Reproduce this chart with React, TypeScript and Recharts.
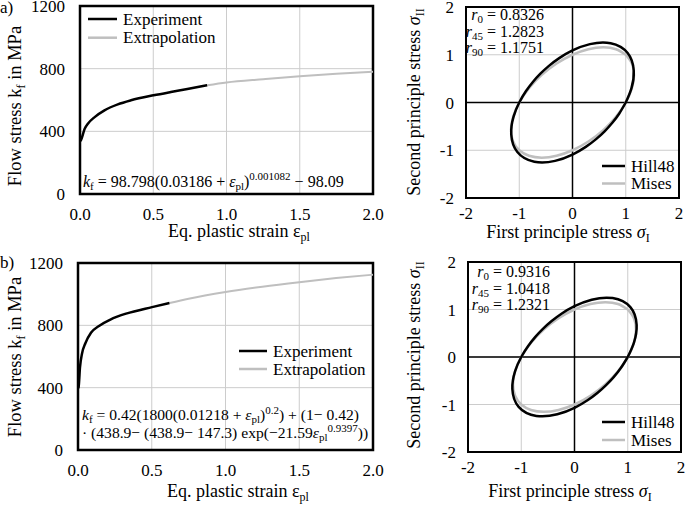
import React from "react";
import {
  LineChart,
  Line,
  XAxis,
  YAxis,
  CartesianGrid,
  ReferenceArea,
  ReferenceLine,
} from "recharts";

const FONT = "'Liberation Serif', 'Times New Roman', Times, serif";
const GRID = "#cccccc";
const GREY = "#bfbfbf";

// axis ticks
const strainTicks = [0, 0.5, 1, 1.5, 2];
const stressTicks = [0, 400, 800, 1200];
const unitTicks = [-2, -1, 0, 1, 2];

// a) flow curve
const expStrainA = [0, 0.005, 0.032, 0.054, 0.1, 0.167, 0.258, 0.348, 0.502, 0.62, 0.733, 0.868];
const expStressA = [338, 342, 417, 449, 491, 534, 572, 598, 630, 651, 670, 694];
const extStrainA = [0.868, 1.0, 1.25, 1.5, 1.75, 2.0];
const extStressA = [694, 712, 733, 752, 767, 780];

// b) flow curve
const expStrainB = [0, 0.004, 0.0136, 0.027, 0.05, 0.088, 0.145, 0.213, 0.27, 0.326, 0.502, 0.62];
const expStressB = [398, 404, 532, 618, 685, 752, 798, 834, 857, 875, 917, 943];
const extStrainB = [0.62, 0.75, 1.0, 1.25, 1.5, 1.75, 2.0];
const extStressB = [943, 971, 1014, 1048, 1077, 1103, 1125];

// yield loci (normalised principal stresses), traced around the contour
const misesS1 = [1, 1.1153, 1.1547, 1.1153, 1, 0.8165, 0.5774, 0.2989, 0, -0.2989, -0.5774, -0.8165, -1, -1.1153, -1.1547, -1.1153, -1, -0.8165, -0.5774, -0.2989, 0, 0.2989, 0.5774, 0.8165, 1];
const misesS2 = [1, 0.8165, 0.5774, 0.2989, 0, -0.2989, -0.5774, -0.8165, -1, -1.1153, -1.1547, -1.1153, -1, -0.8165, -0.5774, -0.2989, 0, 0.2989, 0.5774, 0.8165, 1, 1.1153, 1.1547, 1.1153, 1];

const hillS1A = [1, 1.1065, 1.1503, 1.0358, 0.7163, 0.3275, 0, -0.2492, -0.4429, -0.603, -0.7443, -0.8758, -1, -1.1065, -1.1503, -1.0358, -0.7163, -0.3275, 0, 0.2492, 0.4429, 0.603, 0.7443, 0.8758, 1];
const hillS2A = [0, 0.2965, 0.6641, 1.0358, 1.2406, 1.2223, 1.0904, 0.9299, 0.7672, 0.603, 0.4297, 0.2347, 0, -0.2965, -0.6641, -1.0358, -1.2406, -1.2223, -1.0904, -0.9299, -0.7672, -0.603, -0.4297, -0.2347, 0];

const hillS1B = [1, 1.1151, 1.167, 1.0488, 0.7161, 0.3233, 0, -0.2442, -0.4347, -0.5936, -0.7356, -0.87, -1, -1.1151, -1.167, -1.0488, -0.7161, -0.3233, 0, 0.2442, 0.4347, 0.5936, 0.7356, 0.87, 1];
const hillS2B = [0, 0.2988, 0.6738, 1.0488, 1.2402, 1.2065, 1.0698, 0.9114, 0.7529, 0.5936, 0.4247, 0.2331, 0, -0.2988, -0.6738, -1.0488, -1.2402, -1.2065, -1.0698, -0.9114, -0.7529, -0.5936, -0.4247, -0.2331, 0];

type Pt = { x: number; y: number };
const toPoints = (xs: number[], ys: number[]): Pt[] => xs.map((x, i) => ({ x, y: ys[i] }));

const tickStyle = { fontSize: 17, fill: "#000", fontFamily: FONT };

type Margin = { top: number; right: number; bottom: number; left: number };

function FlowChart({ left, top, height, margin, exp, ext }: { left: number; top: number; height: number; margin: Margin; exp: Pt[]; ext: Pt[] }) {
  return (
    <div style={{ position: "absolute", left, top }}>
      <LineChart width={395} height={height} margin={margin} style={{ fontFamily: FONT }}>
        <CartesianGrid stroke={GRID} strokeWidth={1} />
        <XAxis
          type="number"
          dataKey="x"
          domain={[0, 2]}
          ticks={strainTicks}
          interval={0}
          allowDataOverflow
          axisLine={false}
          tickLine={false}
          tickSize={6}
          tickMargin={8}
          height={30}
          tick={tickStyle}
          tickFormatter={(v: number) => v.toFixed(1)}
        />
        <YAxis
          type="number"
          domain={[0, 1200]}
          ticks={stressTicks}
          interval={0}
          allowDataOverflow
          axisLine={false}
          tickLine={false}
          tickSize={6}
          tickMargin={9}
          width={45}
          tick={tickStyle}
        />
        <ReferenceArea x1={0} x2={2} y1={0} y2={1200} fill="none" stroke="#000" strokeWidth={2.5} ifOverflow="visible" />
        <Line data={ext} dataKey="y" type="monotone" stroke={GREY} strokeWidth={2} dot={false} isAnimationActive={false} />
        <Line data={exp} dataKey="y" type="monotone" stroke="#000" strokeWidth={2.5} dot={false} isAnimationActive={false} />
      </LineChart>
    </div>
  );
}

function YieldChart({ left, top, height, margin, mises, hill }: { left: number; top: number; height: number; margin: Margin; mises: Pt[]; hill: Pt[] }) {
  return (
    <div style={{ position: "absolute", left, top }}>
      <LineChart width={290} height={height} margin={margin} style={{ fontFamily: FONT }}>
        <CartesianGrid stroke={GRID} strokeWidth={1} />
        <XAxis
          type="number"
          dataKey="x"
          domain={[-2, 2]}
          ticks={unitTicks}
          interval={0}
          allowDataOverflow
          axisLine={false}
          tickLine={false}
          tickSize={6}
          tickMargin={3}
          height={30}
          tick={tickStyle}
        />
        <YAxis
          type="number"
          domain={[-2, 2]}
          ticks={unitTicks}
          interval={0}
          allowDataOverflow
          axisLine={false}
          tickLine={false}
          tickSize={6}
          tickMargin={6}
          width={40}
          tick={tickStyle}
        />
        <ReferenceLine x={0} stroke="#000" strokeWidth={1.5} />
        <ReferenceLine y={0} stroke="#000" strokeWidth={1.5} />
        <ReferenceArea x1={-2} x2={2} y1={-2} y2={2} fill="none" stroke="#000" strokeWidth={2} ifOverflow="visible" />
        <Line data={mises} dataKey="y" type="natural" stroke={GREY} strokeWidth={2.5} dot={false} isAnimationActive={false} />
        <Line data={hill} dataKey="y" type="natural" stroke="#000" strokeWidth={2.5} dot={false} isAnimationActive={false} />
      </LineChart>
    </div>
  );
}

const SUB = 11;

function RValues({ x, y, r0, r45, r90 }: { x: number; y: number; r0: string; r45: string; r90: string }) {
  const rows: [string, string][] = [["0", r0], ["45", r45], ["90", r90]];
  return (
    <>
      {rows.map(([k, v], i) => (
        <text key={k} x={x} y={y + i * 16.5} textAnchor="end" fontSize={16}>
          <tspan fontStyle="italic">r</tspan>
          <tspan dy={3} fontSize={SUB}>{k}</tspan>
          <tspan dy={-3}>{" = " + v}</tspan>
        </text>
      ))}
    </>
  );
}

function LegendRows({ x, y, gap, labels, width }: { x: number; y: number; gap: number; labels: [string, string]; width: number }) {
  return (
    <>
      <line x1={x} x2={x + width} y1={y} y2={y} stroke="#000" strokeWidth={2.5} />
      <line x1={x} x2={x + width} y1={y + gap} y2={y + gap} stroke={GREY} strokeWidth={2.5} />
      <text x={x + width + 6} y={y + 5.5} fontSize={17}>{labels[0]}</text>
      <text x={x + width + 6} y={y + gap + 5.5} fontSize={17}>{labels[1]}</text>
    </>
  );
}

export default function App() {
  const expA = toPoints(expStrainA, expStressA);
  const extA = toPoints(extStrainA, extStressA);
  const expB = toPoints(expStrainB, expStressB);
  const extB = toPoints(extStrainB, extStressB);
  const mises = toPoints(misesS1, misesS2);
  const hillA = toPoints(hillS1A, hillS2A);
  const hillB = toPoints(hillS1B, hillS2B);

  return (
    <div style={{ position: "absolute", left: 0, top: 0, width: 685, height: 505, background: "#fff", fontFamily: FONT }}>
      <FlowChart left={0} top={0} height={250} margin={{ top: 6, right: 22, bottom: 26, left: 35 }} exp={expA} ext={extA} />
      <YieldChart left={395} top={0} height={250} margin={{ top: 7, right: 6, bottom: 22, left: 31 }} mises={mises} hill={hillA} />
      <FlowChart left={0} top={250} height={255} margin={{ top: 13, right: 22, bottom: 25, left: 33 }} exp={expB} ext={extB} />
      <YieldChart left={395} top={250} height={255} margin={{ top: 12, right: 4, bottom: 23, left: 33 }} mises={mises} hill={hillB} />

      <svg width={685} height={505} style={{ position: "absolute", left: 0, top: 0, pointerEvents: "none" }} fontFamily={FONT} fill="#000">
        <text x={0} y={13} fontSize={17}>a)</text>
        <text x={0} y={268} fontSize={17}>b)</text>

        {/* axis titles */}
        <text transform="rotate(-90)" x={-106} y={21} textAnchor="middle" fontSize={18.5}>
          Flow stress k<tspan dy={4} fontSize={12}>f</tspan><tspan dy={-4}> in MPa</tspan>
        </text>
        <text transform="rotate(-90)" x={-357} y={21} textAnchor="middle" fontSize={18.5}>
          Flow stress k<tspan dy={4} fontSize={12}>f</tspan><tspan dy={-4}> in MPa</tspan>
        </text>
        <text x={239} y={237} textAnchor="middle" fontSize={18}>
          Eq. plastic strain ε<tspan dy={4} fontSize={12}>pl</tspan>
        </text>
        <text x={238} y={497} textAnchor="middle" fontSize={18}>
          Eq. plastic strain ε<tspan dy={4} fontSize={12}>pl</tspan>
        </text>
        <text transform="rotate(-90)" x={-102} y={420} textAnchor="middle" fontSize={18}>
          Second principle stress <tspan fontStyle="italic">σ</tspan><tspan dy={4} fontSize={12}>II</tspan>
        </text>
        <text transform="rotate(-90)" x={-355} y={420} textAnchor="middle" fontSize={18}>
          Second principle stress <tspan fontStyle="italic">σ</tspan><tspan dy={4} fontSize={12}>II</tspan>
        </text>
        <text x={568} y={238} textAnchor="middle" fontSize={18}>
          First principle stress <tspan fontStyle="italic">σ</tspan><tspan dy={4} fontSize={12}>I</tspan>
        </text>
        <text x={570} y={497} textAnchor="middle" fontSize={18}>
          First principle stress <tspan fontStyle="italic">σ</tspan><tspan dy={4} fontSize={12}>I</tspan>
        </text>

        {/* legends */}
        <LegendRows x={88} y={19} gap={18.7} width={29} labels={["Experiment", "Extrapolation"]} />
        <LegendRows x={239} y={351} gap={18} width={28} labels={["Experiment", "Extrapolation"]} />
        <LegendRows x={602} y={166} gap={17.5} width={23} labels={["Hill48", "Mises"]} />
        <LegendRows x={602} y={422} gap={18} width={23} labels={["Hill48", "Mises"]} />

        {/* anisotropy values */}
        <RValues x={544} y={20} r0="0.8326" r45="1.2823" r90="1.1751" />
        <RValues x={550} y={277} r0="0.9316" r45="1.0418" r90="1.2321" />

        {/* fitted equations */}
        <text x={83} y={187} fontSize={16}>
          <tspan fontStyle="italic">k</tspan>
          <tspan dy={3} fontSize={SUB}>f</tspan>
          <tspan dy={-3}>{" = 98.798(0.03186 + "}</tspan>
          <tspan fontStyle="italic">ε</tspan>
          <tspan dy={3} fontSize={SUB}>pl</tspan>
          <tspan dy={-3}>)</tspan>
          <tspan dy={-7} fontSize={SUB}>0.001082</tspan>
          <tspan dy={7}>{" − 98.09"}</tspan>
        </text>
        <text x={82} y={420} fontSize={15.6}>
          <tspan fontStyle="italic">k</tspan>
          <tspan dy={3} fontSize={SUB}>f</tspan>
          <tspan dy={-3}>{" = 0.42(1800(0.01218 + "}</tspan>
          <tspan fontStyle="italic">ε</tspan>
          <tspan dy={3} fontSize={SUB}>pl</tspan>
          <tspan dy={-3}>)</tspan>
          <tspan dy={-6} fontSize={SUB}>0.2</tspan>
          <tspan dy={6}>{") + (1− 0.42)"}</tspan>
        </text>
        <text x={82} y={438} fontSize={15.6}>
          <tspan>{"· (438.9− (438.9− 147.3) exp(−21.59"}</tspan>
          <tspan fontStyle="italic">ε</tspan>
          <tspan dy={3} fontSize={SUB}>pl</tspan>
          <tspan dy={-9} fontSize={SUB}>0.9397</tspan>
          <tspan dy={6}>{"))"}</tspan>
        </text>
      </svg>
    </div>
  );
}
